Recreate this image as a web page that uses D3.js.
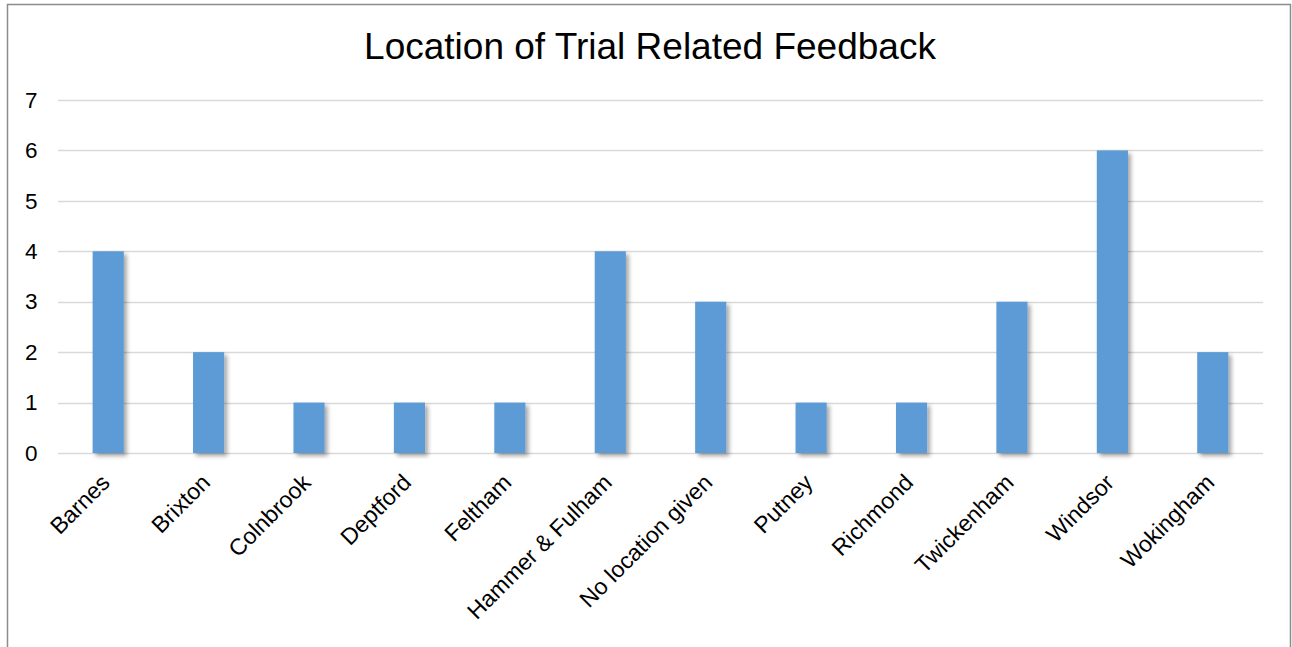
<!DOCTYPE html>
<html>
<head>
<meta charset="utf-8">
<script src="https://cdn.jsdelivr.net/npm/d3@7"></script>
<style>
  html, body { margin: 0; padding: 0; background: #fff; }
  svg { display: block; }
  text { font-family: "Liberation Sans", Arial, sans-serif; fill: #000; }
</style>
</head>
<body>
<svg id="chart" width="1292" height="647"></svg>
<script>
// Feedback counts per location
const categories = ["Barnes", "Brixton", "Colnbrook", "Deptford", "Feltham", "Hammer & Fulham",
  "No location given", "Putney", "Richmond", "Twickenham", "Windsor", "Wokingham"];
const counts = [4, 2, 1, 1, 1, 4, 3, 1, 1, 3, 6, 2];
const yTicks = [0, 1, 2, 3, 4, 5, 6, 7];
const title = "Location of Trial Related Feedback";

const svg = d3.select("#chart");
const W = 1292, H = 647;
const plot = { left: 58, right: 1263, top: 100, bottom: 453 };
const FONT = '"Liberation Sans", Arial, sans-serif';

// chart frame (open at the bottom)
svg.append("path")
  .attr("d", `M7.5,${H} L7.5,4.5 L1290.5,4.5 L1290.5,${H}`)
  .attr("fill", "none")
  .attr("stroke", "#8c8c8c")
  .attr("stroke-width", 1.5);

const x = d3.scaleBand().domain(categories).range([plot.left, plot.right]).paddingInner(0.69).paddingOuter(0.345);
const y = d3.scaleLinear().domain([0, 7]).range([plot.bottom, plot.top]);

// soft drop shadow for the bars
const defs = svg.append("defs");
const f = defs.append("filter").attr("id", "shadow").attr("x", "-30%").attr("y", "-10%").attr("width", "160%").attr("height", "120%");
f.append("feDropShadow").attr("dx", 3).attr("dy", 3).attr("stdDeviation", 2)
  .attr("flood-color", "#000").attr("flood-opacity", 0.35);

// gridlines
svg.append("g")
  .selectAll("line").data(yTicks).join("line")
  .attr("x1", plot.left).attr("x2", plot.right)
  .attr("y1", d => Math.round(y(d)) + 0.5).attr("y2", d => Math.round(y(d)) + 0.5)
  .attr("stroke", "#d9d9d9").attr("stroke-width", 1.5);

// y axis labels
const yAxis = svg.append("g").attr("transform", `translate(${plot.left},0)`)
  .call(d3.axisLeft(y).tickValues(yTicks).tickSize(0).tickPadding(20.5).tickFormat(d3.format("d")));
yAxis.select(".domain").remove();
yAxis.attr("font-size", null).attr("font-family", null);
yAxis.selectAll("text").style("font-size", "22.5px").style("font-family", FONT);

// bars
svg.append("g")
  .selectAll("rect").data(categories).join("rect")
  .attr("x", d => x(d))
  .attr("y", (d, i) => y(counts[i]))
  .attr("width", x.bandwidth())
  .attr("height", (d, i) => y(0) - y(counts[i]))
  .attr("fill", "#5b9bd5")
  .attr("filter", "url(#shadow)");

// category labels, rotated
const xAxis = svg.append("g").attr("transform", `translate(0,${plot.bottom})`)
  .call(d3.axisBottom(x).tickSize(0).tickPadding(0));
xAxis.select(".domain").remove();
xAxis.attr("font-size", null).attr("font-family", null);
xAxis.selectAll("text")
  .style("font-size", "23px")
  .style("font-family", FONT)
  .attr("text-anchor", "end")
  .attr("y", 0)
  .attr("dy", 0)
  .attr("transform", "translate(3,31) rotate(-45)");

// title
svg.append("text")
  .attr("x", 650).attr("y", 59)
  .attr("text-anchor", "middle")
  .style("font-size", "37px")
  .text(title);
</script>
</body>
</html>
